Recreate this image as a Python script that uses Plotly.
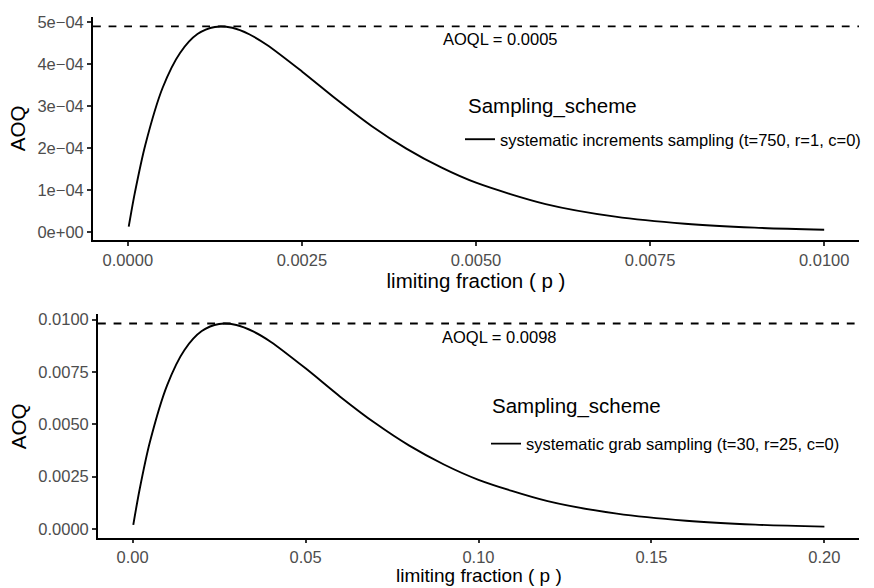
import plotly.graph_objects as go

# ---- data ----
p_top = [0.000013, 0.00005, 0.0001, 0.00025, 0.0005, 0.00075, 0.001, 0.00125, 0.0015,
         0.00175, 0.002, 0.0025, 0.003, 0.0035, 0.004, 0.0045, 0.005, 0.006, 0.007,
         0.008, 0.009, 0.010]
aoq_top = [0.000013, 0.000048, 0.0000928, 0.000207, 0.000344, 0.000427, 0.000472, 0.000489,
           0.000487, 0.000471, 0.000446, 0.000383, 0.000316, 0.000253, 0.000199, 0.000154,
           0.0001176, 0.0000667, 0.0000367, 0.0000198, 0.0000105, 0.0000055]

p_bot = [0.0002, 0.002, 0.005, 0.01, 0.015, 0.02, 0.025, 0.03, 0.035, 0.04, 0.05, 0.06,
         0.07, 0.08, 0.09, 0.10, 0.12, 0.14, 0.16, 0.18, 0.20]
aoq_bot = [0.0002, 0.00186, 0.00415, 0.00687, 0.00855, 0.00945, 0.00979, 0.00974, 0.00942,
           0.00893, 0.00767, 0.00632, 0.00507, 0.00398, 0.00308, 0.00235, 0.00133, 0.000735,
           0.000397, 0.00021, 0.000111]

series_names = ["systematic increments sampling (t=750, r=1, c=0)",
                "systematic grab sampling (t=30, r=25, c=0)"]
legend_title = "Sampling_scheme"
x_title = "limiting fraction ( p )"
y_title = "AOQ"
aoql_values = [0.0004905, 0.00981]
aoql_labels = ["AOQL = 0.0005", "AOQL = 0.0098"]
aoql_label_x = [0.00535, 0.106]
aoql_label_y = [0.000461, 0.00919]

ytick_top_vals = [0, 0.0001, 0.0002, 0.0003, 0.0004, 0.0005]
ytick_top_text = ["0e+00", "1e\u221204", "2e\u221204", "3e\u221204", "4e\u221204", "5e\u221204"]
xtick_top_vals = [0, 0.0025, 0.005, 0.0075, 0.01]
xtick_top_text = ["0.0000", "0.0025", "0.0050", "0.0075", "0.0100"]
ytick_bot_vals = [0, 0.0025, 0.005, 0.0075, 0.01]
ytick_bot_text = ["0.0000", "0.0025", "0.0050", "0.0075", "0.0100"]
xtick_bot_vals = [0, 0.05, 0.10, 0.15, 0.20]
xtick_bot_text = ["0.00", "0.05", "0.10", "0.15", "0.20"]

# ---- layout geometry ----
W, H = 874, 588
FONT = "Liberation Sans, Arial, sans-serif"
LW = 1.9
SMALL = 16.5
BIG = 20.5

def fx(px):
    return px / W

def fy(py):
    return (H - py) / H

fig = go.Figure()
fig.add_trace(go.Scatter(x=p_top, y=aoq_top, mode="lines", name=series_names[0],
                         line=dict(color="black", width=LW, shape="spline", smoothing=0.8),
                         xaxis="x", yaxis="y", legend="legend", showlegend=True,
                         hoverinfo="skip"))
fig.add_trace(go.Scatter(x=p_bot, y=aoq_bot, mode="lines", name=series_names[1],
                         line=dict(color="black", width=LW, shape="spline", smoothing=0.8),
                         xaxis="x2", yaxis="y2", legend="legend2", showlegend=True,
                         hoverinfo="skip"))

# AOQL dashed lines and labels
for i, (xr, yr) in enumerate([("x domain", "y"), ("x2 domain", "y2")]):
    fig.add_shape(type="line", xref=xr, yref=yr, x0=0, x1=1,
                  y0=aoql_values[i], y1=aoql_values[i],
                  line=dict(color="black", width=LW, dash="7.8px,7.8px"))
    fig.add_annotation(x=aoql_label_x[i], y=aoql_label_y[i], xref=xr.split()[0], yref=yr,
                       text=aoql_labels[i], showarrow=False, xanchor="center", yanchor="middle",
                       font=dict(family=FONT, size=SMALL, color="black"))

# legend titles
for lx, ly in [(466, 103), (490, 405)]:
    fig.add_annotation(x=fx(lx), y=fy(ly), xref="paper", yref="paper", text=legend_title,
                       showarrow=False, xanchor="left", yanchor="middle",
                       font=dict(family=FONT, size=BIG, color="black"))

# bottom x-axis title (sits at the page bottom, below the tick labels)
fig.add_annotation(x=0.5, y=0, xref="x2 domain", yref="paper", text=x_title,
                   showarrow=False, xanchor="center", yanchor="bottom", borderpad=0,
                   font=dict(family=FONT, size=19, color="black"))

axis_common = dict(showgrid=False, zeroline=False, showline=True, linecolor="black",
                   linewidth=LW, ticks="outside", tickwidth=1.6, tickcolor="#333333",
                   tickfont=dict(family=FONT, size=SMALL, color="#4D4D4D"))
title_font = dict(family=FONT, size=BIG, color="black")

fig.update_layout(
    width=W, height=H,
    margin=dict(l=0, r=0, t=0, b=0),
    paper_bgcolor="white", plot_bgcolor="white",
    font=dict(family=FONT),
    showlegend=True,
    xaxis=dict(domain=[fx(93), fx(859)], anchor="y", range=[-0.0005, 0.0105],
               tickvals=xtick_top_vals, ticktext=xtick_top_text, ticklen=4,
               title=dict(text=x_title, standoff=1, font=title_font),
               **axis_common),
    yaxis=dict(domain=[fy(238), fy(13)], anchor="x", range=[-0.0000189, 0.000513],
               tickvals=ytick_top_vals, ticktext=ytick_top_text, ticklen=4,
               title=dict(text=y_title, standoff=6, font=title_font), **axis_common),
    xaxis2=dict(domain=[fx(98), fx(859)], anchor="y2", range=[-0.01, 0.21],
                tickvals=xtick_bot_vals, ticktext=xtick_bot_text, ticklen=3,
                **axis_common),
    yaxis2=dict(domain=[fy(539), fy(313)], anchor="x2", range=[-0.00045, 0.01025],
                tickvals=ytick_bot_vals, ticktext=ytick_bot_text, ticklen=4,
                title=dict(text=y_title, standoff=6, font=title_font), **axis_common),
    legend=dict(x=fx(460), y=fy(119), xanchor="left", yanchor="top",
                bgcolor="rgba(0,0,0,0)",
                font=dict(family=FONT, size=SMALL, color="black")),
    legend2=dict(x=fx(486), y=fy(426), xanchor="left", yanchor="top",
                 bgcolor="rgba(0,0,0,0)",
                 font=dict(family=FONT, size=SMALL, color="black")),
)

fig.write_html("out.html")
